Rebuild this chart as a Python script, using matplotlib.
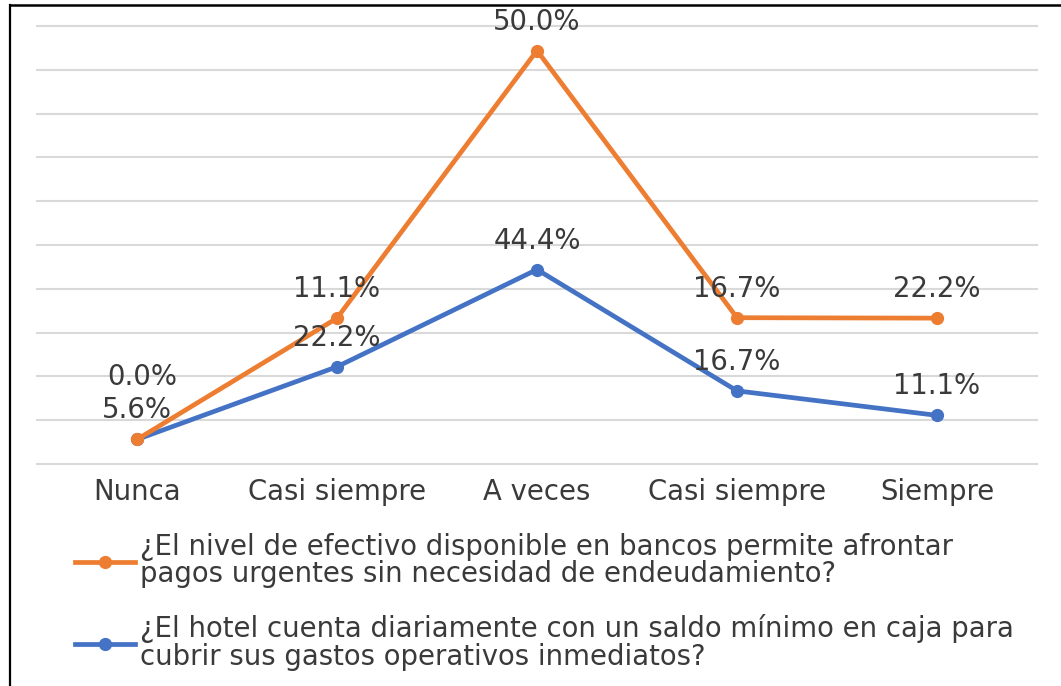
import matplotlib
matplotlib.use('Agg')
import matplotlib.pyplot as plt
from matplotlib.lines import Line2D

categories = ["Nunca", "Casi siempre", "A veces", "Casi siempre", "Siempre"]
blue_values = [5.6, 22.2, 44.4, 16.7, 11.1]
orange_values = [0.0, 11.1, 50.0, 16.7, 22.2]
orange_label = ("¿El nivel de efectivo disponible en bancos permite afrontar\n"
                "pagos urgentes sin necesidad de endeudamiento?")
blue_label = ("¿El hotel cuenta diariamente con un saldo mínimo en caja para\n"
              "cubrir sus gastos operativos inmediatos?")

ORANGE = "#ED7D31"
BLUE = "#4472C4"
TEXT = "#3a3a3a"
FS = 19.8

plt.rcParams['font.family'] = ['DejaVu Sans']

W, H = 1061, 686
fig = plt.figure(figsize=(W / 100, H / 100), dpi=100)
ax = fig.add_axes([37 / W, 1 - 464 / H, 1000 / W, 438 / H])

xs = list(range(len(categories)))
orange_stack = [b + o for b, o in zip(blue_values, orange_values)]

ax.plot(xs, blue_values, color=BLUE, lw=3.4, marker='o', ms=8.5, zorder=3,
        solid_capstyle='round', label=blue_label)
ax.plot(xs, orange_stack, color=ORANGE, lw=3.4, marker='o', ms=8.5, zorder=4,
        solid_capstyle='round', label=orange_label)

for i, (v, y) in enumerate(zip(blue_values, blue_values)):
    ax.annotate(f"{v:.1f}%", (i, y), xytext=(0, 29), textcoords='offset pixels',
                ha='center', va='center', fontsize=FS, color=TEXT,
                annotation_clip=False, zorder=5)
for i, (v, y) in enumerate(zip(orange_values, orange_stack)):
    dy, dx = (29, 0) if v > 0 else (62, 5)
    ax.annotate(f"{v:.1f}%", (i, y), xytext=(dx, dy), textcoords='offset pixels',
                ha='center', va='center', fontsize=FS, color=TEXT,
                annotation_clip=False, zorder=5)

ax.set_xlim(-0.5, len(categories) - 0.5)
ax.set_ylim(0, 100)
ax.set_yticks(range(0, 101, 10))
ax.set_yticklabels([])
ax.tick_params(axis='y', length=0)
ax.set_xticks(xs)
ax.set_xticklabels(categories, fontsize=FS, color=TEXT)
ax.tick_params(axis='x', length=0, pad=10)
ax.grid(axis='y', color='#d9d9d9', lw=1.5)
for gl in ax.get_ygridlines():
    gl.set_clip_on(False)
ax.set_axisbelow(True)
for s in ax.spines.values():
    s.set_visible(False)

handles = [
    Line2D([], [], color=ORANGE, lw=3.4, marker='o', ms=8.5),
    Line2D([], [], color=BLUE, lw=3.4, marker='o', ms=8.5),
]
leg = fig.legend(handles, [orange_label, blue_label], loc='upper left',
                 bbox_to_anchor=(75 / W, 1 - 533 / H), frameon=False,
                 fontsize=FS, handlelength=60 / (FS * 100 / 72),
                 handletextpad=0.18, labelspacing=0.95, borderpad=0,
                 borderaxespad=0, numpoints=1)
for t in leg.get_texts():
    t.set_color(TEXT)
    t.set_linespacing(0.97)

# outer frame (top and left edges)
fig.add_artist(Line2D([9.5 / W, 9.5 / W], [0, 1 - 5 / H], color='black', lw=1.6,
                      transform=fig.transFigure))
fig.add_artist(Line2D([9.5 / W, 1], [1 - 5 / H, 1 - 5 / H], color='black', lw=1.8,
                      transform=fig.transFigure))

fig.savefig("out.png", dpi=100, facecolor='white')
